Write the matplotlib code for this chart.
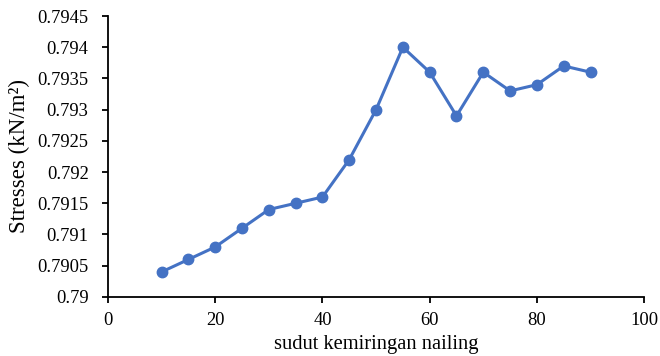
import matplotlib
matplotlib.use("Agg")
import matplotlib.pyplot as plt

angle = [10, 15, 20, 25, 30, 35, 40, 45, 50, 55, 60, 65, 70, 75, 80, 85, 90]
stress = [0.7904, 0.7906, 0.7908, 0.7911, 0.7914, 0.7915, 0.7916, 0.7922, 0.7930,
          0.7940, 0.7936, 0.7929, 0.7936, 0.7933, 0.7934, 0.7937, 0.7936]
xticks = [0, 20, 40, 60, 80, 100]
yticks = [0.79, 0.7905, 0.791, 0.7915, 0.792, 0.7925, 0.793, 0.7935, 0.794, 0.7945]

plt.rcParams['font.family'] = ['Liberation Serif', 'DejaVu Serif']

fig = plt.figure(figsize=(6.6, 3.56), dpi=100)
ax = fig.add_axes([0.1636, 0.166, 0.8124, 0.789])

ax.plot(angle, stress, color='#4472C4', linewidth=2.2, marker='o', markersize=7.5)

ax.set_xlim(0, 100)
ax.set_ylim(0.79, 0.7945)
ax.set_xticks(xticks)
ax.set_xticklabels([str(t) for t in xticks])
ax.set_yticks(yticks)
ax.set_yticklabels([f"{t:g}" for t in yticks])

for s in ['top', 'right']:
    ax.spines[s].set_visible(False)
for s in ['left', 'bottom']:
    ax.spines[s].set_linewidth(1.3)
    ax.spines[s].set_color('black')
ax.tick_params(axis='both', labelsize=13.3, width=1.3, length=4, direction='out', colors='black')
ax.tick_params(axis='y', pad=10)
ax.tick_params(axis='x', pad=7)

ax.set_xlabel("sudut kemiringan nailing", fontsize=14.8, labelpad=4)
ax.set_ylabel("Stresses (kN/m²)", fontsize=16.5, labelpad=5)

fig.savefig("out.png", dpi=100)
